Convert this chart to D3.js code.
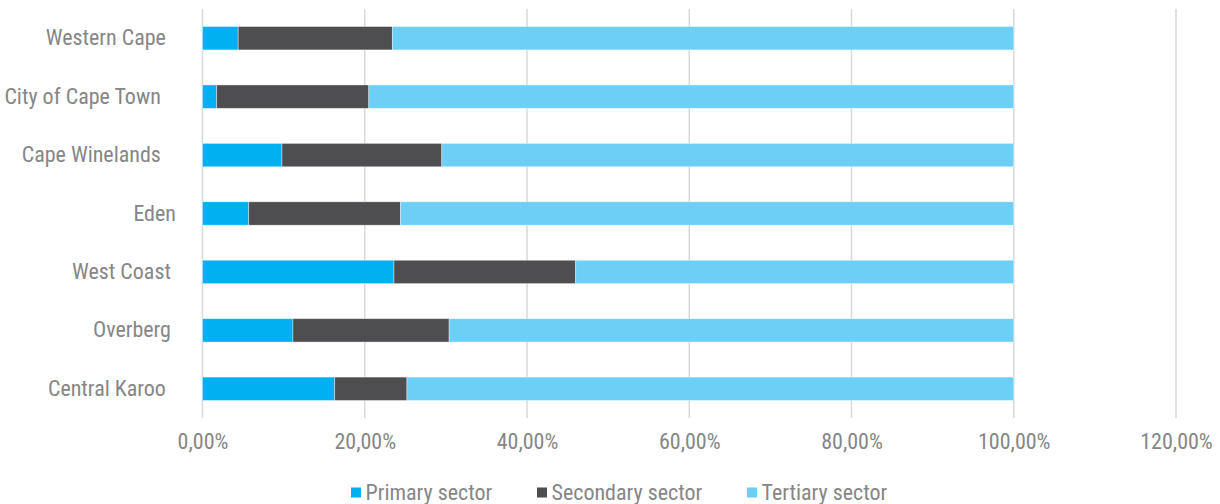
<!DOCTYPE html>
<html>
<head>
<meta charset="utf-8">
<script src="https://cdn.jsdelivr.net/npm/d3@7"></script>
<style>
  html, body { margin: 0; padding: 0; background: #fff; }
  svg { display: block; }
  text { font-family: "Roboto Condensed", "Liberation Sans Narrow", sans-serif; font-weight: 400; fill: #868686; white-space: pre; }
</style>
</head>
<body>
<svg id="chart" width="1220" height="504"></svg>
<script>
// Category labels (some carry trailing spaces in the source sheet)
const categories = ["Western Cape  ", "City of Cape Town   ", "Cape Winelands   ", "Eden", "West Coast ", "Overberg ", "Central Karoo  "];
// Share of GDP by sector, percent
const primary   = [4.4, 1.75, 9.8, 5.7, 23.6, 11.15, 16.3];
const secondary = [19.0, 18.75, 19.7, 18.7, 22.4, 19.25, 8.9];
const tertiary  = [76.6, 79.5, 70.5, 75.6, 54.0, 69.6, 74.8];
const seriesNames = ["Primary sector", "Secondary sector", "Tertiary sector"];
const xTicks = [0, 20, 40, 60, 80, 100, 120];

const colors = ["#00b0f0", "#4e4e50", "#6dcff6"];
const textColor = "#868686";
const rows = categories.map((c, i) => ({ cat: c, p: primary[i], s: secondary[i], t: tertiary[i] }));
const stack = d3.stack().keys(["p", "s", "t"])(rows);

const svg = d3.select("#chart");
const plot = { left: 202.5, right: 1176, top: 9, bottom: 418 };

const x = d3.scaleLinear().domain([0, 120]).range([plot.left, plot.right]);
const y = d3.scaleBand().domain(categories).range([plot.top, plot.bottom])
  .paddingInner(0.6).paddingOuter(0.3);

// vertical gridlines
svg.append("g").selectAll("line").data(xTicks).join("line")
  .attr("x1", d => x(d)).attr("x2", d => x(d))
  .attr("y1", plot.top).attr("y2", plot.bottom)
  .attr("stroke", "#d9d9d9").attr("stroke-width", 1.5);

// stacked bars
svg.append("g").selectAll("g").data(stack).join("g")
  .attr("fill", (d, i) => colors[i])
  .selectAll("rect").data(d => d).join("rect")
  .attr("x", d => x(d[0]))
  .attr("width", d => x(d[1]) - x(d[0]))
  .attr("y", d => y(d.data.cat))
  .attr("height", y.bandwidth())
  .attr("stroke", "rgba(255,255,255,0.5)")
  .attr("stroke-width", 0.75);

const fontStack = "'Roboto Condensed', 'Liberation Sans Narrow', sans-serif";

// x axis labels
const fmt = v => d3.format(".2f")(v).replace(".", ",") + "%";
const xAxis = d3.axisBottom(x).tickValues(xTicks).tickFormat(fmt).tickSize(0).tickPadding(0);
const gx = svg.append("g").attr("transform", `translate(0, 433)`).call(xAxis);
gx.select(".domain").remove();
gx.selectAll("text").attr("font-size", 22).attr("fill", textColor)
  .style("font-family", fontStack).style("font-weight", 400);

// y axis labels
const yAxis = d3.axisLeft(y).tickSize(0).tickPadding(0);
const gy = svg.append("g").attr("transform", `translate(176, 0)`).call(yAxis);
gy.select(".domain").remove();
gy.selectAll("text").attr("font-size", 22).attr("fill", textColor)
  .style("font-family", fontStack).style("font-weight", 400)
  .style("white-space", "pre");

// legend
const legendX = [351, 537, 747];
const lg = svg.append("g").selectAll("g").data(seriesNames).join("g")
  .attr("transform", (d, i) => `translate(${legendX[i]}, 487.5)`);
lg.append("rect").attr("width", 10).attr("height", 10).attr("fill", (d, i) => colors[i]);
lg.append("text").attr("x", 14.5).attr("y", 5).attr("dy", "0.35em")
  .attr("font-size", 22).text(d => d);
</script>
</body>
</html>
